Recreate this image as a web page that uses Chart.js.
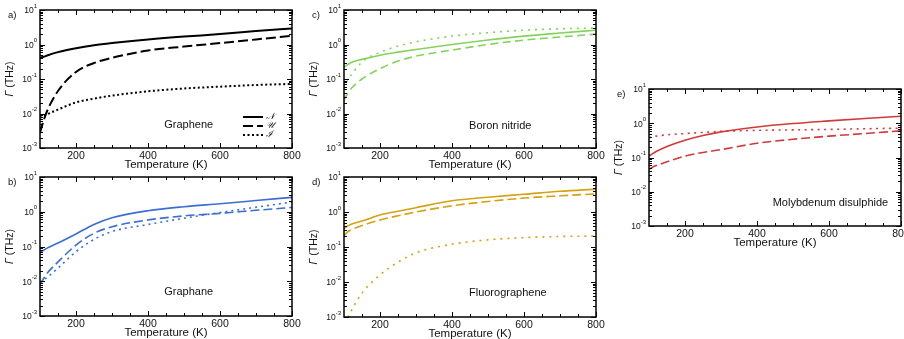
<!DOCTYPE html>
<html>
<head>
<meta charset="utf-8">
<script src="https://cdn.jsdelivr.net/npm/chart.js@4.4.1/dist/chart.umd.min.js"></script>
<style>
  html, body { margin: 0; padding: 0; background: #fff; }
  body { width: 904px; height: 339px; position: relative; overflow: hidden; }
  canvas { position: absolute; }
</style>
</head>
<body>
<canvas id="pa"></canvas>
<canvas id="pb"></canvas>
<canvas id="pc"></canvas>
<canvas id="pd"></canvas>
<canvas id="pe"></canvas>
<script>
// temperatures (K) shared by every curve
const temps = [100, 110, 120, 150, 200, 250, 300, 400, 500, 600, 700, 800];

// scattering rates Gamma (THz): N = normal, U = umklapp, I = isotope
const grapheneN = [0.41, 0.44, 0.48, 0.6, 0.78, 0.95, 1.1, 1.4, 1.7, 2.0, 2.45, 2.9];
const grapheneU = [0.0028, 0.0062, 0.012, 0.045, 0.16, 0.29, 0.41, 0.67, 0.87, 1.1, 1.4, 1.8];
const grapheneI = [0.0075, 0.0085, 0.0095, 0.013, 0.021, 0.027, 0.033, 0.044, 0.053, 0.06, 0.067, 0.072];

const graphaneN = [0.068, 0.078, 0.09, 0.126, 0.23, 0.43, 0.67, 1.07, 1.4, 1.7, 2.1, 2.6];
const graphaneU = [0.008, 0.012, 0.017, 0.036, 0.11, 0.24, 0.37, 0.58, 0.76, 0.9, 1.1, 1.33];
const graphaneI = [0.0093, 0.011, 0.013, 0.024, 0.071, 0.16, 0.27, 0.43, 0.65, 0.95, 1.35, 1.9];

const bnN = [0.22, 0.26, 0.3, 0.37, 0.49, 0.6, 0.72, 1.0, 1.35, 1.75, 2.15, 2.6];
const bnU = [0.024, 0.038, 0.053, 0.1, 0.2, 0.33, 0.46, 0.69, 1.0, 1.34, 1.65, 2.0];
const bnI = [0.053, 0.09, 0.13, 0.31, 0.59, 0.9, 1.2, 1.75, 2.2, 2.6, 2.85, 3.0];

const fluoroN = [0.33, 0.4, 0.45, 0.55, 0.82, 1.05, 1.33, 2.1, 2.65, 3.2, 3.9, 4.5];
const fluoroU = [0.21, 0.27, 0.31, 0.41, 0.59, 0.78, 1.0, 1.5, 2.0, 2.5, 2.9, 3.3];
const fluoroI = [0.0004, 0.0009, 0.0015, 0.0048, 0.016, 0.037, 0.068, 0.12, 0.16, 0.185, 0.2, 0.205];

const mos2N = [0.11, 0.13, 0.15, 0.21, 0.32, 0.44, 0.56, 0.78, 0.98, 1.17, 1.38, 1.6];
const mos2U = [0.045, 0.052, 0.058, 0.075, 0.11, 0.14, 0.17, 0.26, 0.34, 0.42, 0.5, 0.6];
const mos2I = [0.38, 0.4, 0.42, 0.46, 0.5, 0.54, 0.58, 0.62, 0.64, 0.66, 0.69, 0.72];

// axis ticks and labels
const xLabelTicks = [200, 400, 600, 800];
const xMinorTicks = [150, 250, 300, 350, 450, 500, 550, 650, 700, 750];
const yDecades = [-3, -2, -1, 0, 1];
const legendLabels = ['\u{1D4A9}', '\u{1D4B0}', '\u2110'];

const FONT = '"Liberation Sans", Arial, Helvetica, sans-serif';
Chart.defaults.font.family = FONT;
Chart.defaults.color = '#111';

// plot-area boxes [left, top, right, bottom] in page pixels
const panels = [
  { id: 'pa', letter: 'a)', name: 'Graphene', box: [40, 10, 292, 148], color: '#000000', lw: 2,
    series: [grapheneN, grapheneU, grapheneI], dot: [2, 2.5], dash: [10, 4], nameAt: [0.59, 0.835], legend: true },
  { id: 'pb', letter: 'b)', name: 'Graphane', box: [40, 177, 292, 316], color: '#3a6fd0', lw: 1.6,
    series: [graphaneN, graphaneU, graphaneI], dot: [2, 4], dash: [9, 4], nameAt: [0.59, 0.83] },
  { id: 'pc', letter: 'c)', name: 'Boron nitride', box: [344, 10, 596, 148], color: '#86d35c', lw: 1.6,
    series: [bnN, bnU, bnI], dot: [2, 5], dash: [8, 4.5], nameAt: [0.62, 0.84] },
  { id: 'pd', letter: 'd)', name: 'Fluorographene', box: [344, 177, 596, 317], color: '#d4a214', lw: 1.6,
    series: [fluoroN, fluoroU, fluoroI], dot: [2, 5], dash: [9, 4], nameAt: [0.65, 0.83] },
  { id: 'pe', letter: 'e)', name: 'Molybdenum disulphide', box: [649, 89, 901, 226], color: '#d2393a', lw: 1.6,
    series: [mos2N, mos2U, mos2I], dot: [2, 4.5], dash: [9, 4], nameAt: [0.72, 0.83] }
];

function line(ctx, x1, y1, x2, y2) {
  ctx.beginPath(); ctx.moveTo(x1, y1); ctx.lineTo(x2, y2); ctx.stroke();
}

// frame, inward ticks on all sides, log labels, y title, panel texts
const deco = {
  id: 'deco',
  afterDatasetsDraw(chart) {
    const p = chart.canvas._panel;
    const { ctx, chartArea: a } = chart;
    const x = chart.scales.x, y = chart.scales.y;
    ctx.save();
    ctx.strokeStyle = '#000';
    ctx.setLineDash([]);
    ctx.lineWidth = 1;
    xLabelTicks.concat(xMinorTicks).forEach(v => {
      const px = Math.round(x.getPixelForValue(v)) + 0.5;
      const len = xLabelTicks.includes(v) ? 5 : 3;
      line(ctx, px, a.bottom, px, a.bottom - len);
      line(ctx, px, a.top, px, a.top + len);
    });
    yDecades.forEach(d => {
      for (let m = 1; m <= 9; m++) {
        if (d === 1 && m > 1) break;
        const py = Math.round(y.getPixelForValue(m * Math.pow(10, d))) + 0.5;
        const len = m === 1 ? 5 : 3;
        line(ctx, a.left, py, a.left + len, py);
        line(ctx, a.right, py, a.right - len, py);
      }
    });
    ctx.lineWidth = 1.5;
    ctx.strokeRect(a.left, a.top, a.right - a.left, a.bottom - a.top);

    // y tick labels 10^n
    ctx.fillStyle = '#111';
    ctx.textBaseline = 'middle';
    yDecades.forEach(d => {
      const py = y.getPixelForValue(Math.pow(10, d));
      const exp = String(d);
      ctx.font = '6px ' + FONT;
      const ew = ctx.measureText(exp).width;
      ctx.textAlign = 'right';
      ctx.fillText(exp, a.left - 3, py - 4);
      ctx.font = '8.5px ' + FONT;
      ctx.fillText('10', a.left - 3 - ew, py + 1);
    });

    // y axis title with italic Gamma
    ctx.save();
    ctx.translate(a.left - 30, (a.top + a.bottom) / 2);
    ctx.rotate(-Math.PI / 2);
    ctx.textAlign = 'left';
    ctx.font = 'italic 10.5px ' + FONT;
    const gw = ctx.measureText('\u0393').width;
    ctx.font = '10.5px ' + FONT;
    const rest = ' (THz)';
    const tw = gw + ctx.measureText(rest).width;
    ctx.font = 'italic 10.5px ' + FONT;
    ctx.fillText('\u0393', -tw / 2, 0);
    ctx.font = '10.5px ' + FONT;
    ctx.fillText(rest, -tw / 2 + gw, 0);
    ctx.restore();

    // panel letter and material name
    ctx.textAlign = 'left';
    ctx.font = '9.5px ' + FONT;
    ctx.fillText(p.letter, a.left - 32, a.top + 5);
    ctx.textAlign = 'center';
    ctx.font = '11px ' + FONT;
    ctx.fillText(p.name, a.left + p.nameAt[0] * (a.right - a.left), a.top + p.nameAt[1] * (a.bottom - a.top));

    // legend for the three mechanisms
    if (p.legend) {
      const dashes = [[], p.dash, p.dot];
      for (let i = 0; i < 3; i++) {
        const ly = a.top + 107 + i * 9;
        ctx.strokeStyle = p.color;
        ctx.lineWidth = p.lw;
        ctx.setLineDash(dashes[i]);
        line(ctx, a.left + 203, ly, a.left + 223, ly);
        ctx.setLineDash([]);
        ctx.textAlign = 'left';
        ctx.font = 'italic 9px "DejaVu Serif", serif';
        ctx.fillText(legendLabels[i], a.left + 226, ly);
      }
    }
    ctx.restore();
  }
};

function makeChart(p) {
  const cv = document.getElementById(p.id);
  const padL = 44, padT = 12, padR = 16, axH = 24;
  const w = padL + (p.box[2] - p.box[0]) + padR;
  const h = padT + (p.box[3] - p.box[1]) + axH;
  cv.width = w; cv.height = h;
  cv.style.width = w + 'px'; cv.style.height = h + 'px';
  cv.style.left = (p.box[0] - padL) + 'px';
  cv.style.top = (p.box[1] - padT) + 'px';
  cv._panel = p;
  const dashes = [[], p.dash, p.dot];
  const datasets = p.series.map((vals, i) => ({
    data: temps.map((t, k) => ({ x: t, y: vals[k] })),
    borderColor: p.color,
    borderWidth: p.lw,
    borderDash: dashes[i],
    pointRadius: 0,
    fill: false,
    cubicInterpolationMode: 'monotone'
  }));
  new Chart(cv, {
    type: 'line',
    data: { datasets },
    options: {
      responsive: false,
      animation: false,
      devicePixelRatio: 1,
      layout: { padding: { top: padT, right: padR, left: 0, bottom: 0 } },
      plugins: { legend: { display: false }, tooltip: { enabled: false } },
      scales: {
        x: {
          type: 'linear', min: 100, max: 800,
          afterBuildTicks: s => { s.ticks = xLabelTicks.map(v => ({ value: v })); },
          afterFit: s => { s.height = axH; },
          grid: { display: false, drawTicks: false },
          border: { display: false },
          ticks: { padding: 2, font: { size: 10.5 }, color: '#111', maxRotation: 0 },
          title: { display: true, text: 'Temperature (K)', font: { size: 11.5 }, color: '#111', padding: 0 }
        },
        y: {
          type: 'logarithmic', min: 1e-3, max: 10,
          afterFit: s => { s.width = padL; },
          grid: { display: false, drawTicks: false },
          border: { display: false },
          ticks: { display: false }
        }
      }
    },
    plugins: [deco]
  });
}

panels.forEach(makeChart);
</script>
</body>
</html>
